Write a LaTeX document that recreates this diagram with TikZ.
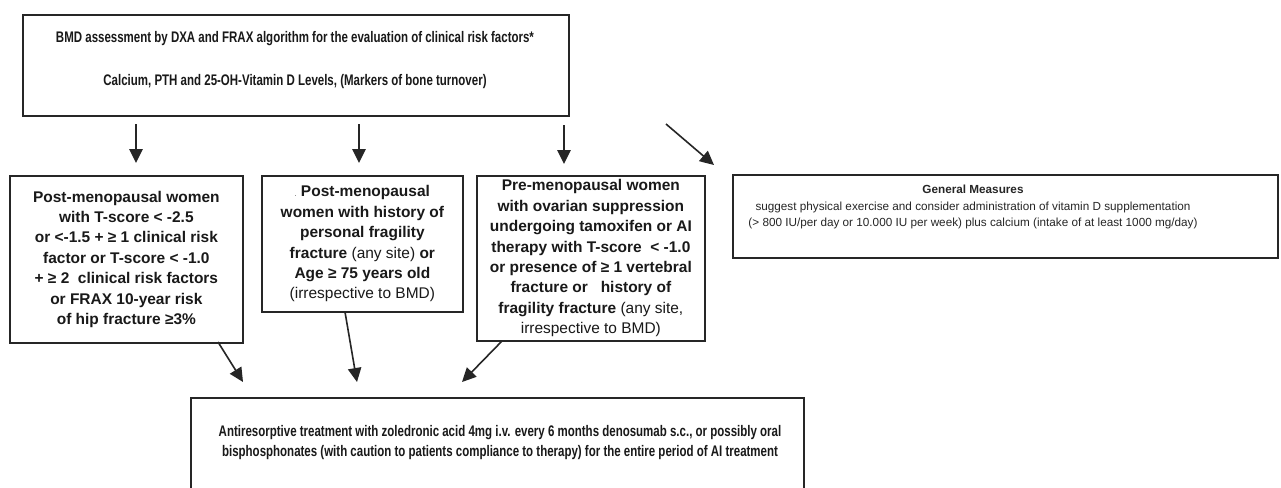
\documentclass[tikz,border=0pt]{standalone}
\usepackage{fontspec}
\setmainfont{Liberation Sans}
\newfontfamily\narrowfont[FakeStretch=0.75]{Liberation Sans}
\usetikzlibrary{arrows.meta}
\begin{document}
\begin{tikzpicture}[x=0.75pt,y=-0.75pt,
  box/.style args={#1/#2}{draw=black!85, line width=1.3pt, minimum width={#1*0.75pt},
    minimum height={#2*0.75pt}, anchor=north west, inner sep=0pt, align=center,
    font=\bfseries\fontsize{11.6}{15.3}\selectfont, text=black!90},
  toptext/.style={anchor=base, inner sep=0pt, font=\narrowfont\bfseries\fontsize{11.5}{15}\selectfont, text=black!90},
  gmtext/.style={inner sep=0pt, align=center, font=\fontsize{8.8}{12.6}\selectfont, text=black!85},
  bottext/.style={inner sep=0pt, align=center, font=\narrowfont\bfseries\fontsize{11.5}{15}\selectfont, text=black!90},
  arr/.style={line width=1.2pt, draw=black!85, -{Triangle[length=10.5pt,width=10pt]}}]
\fill[white] (0,0) rectangle (1281,487);
\clip (0,0) rectangle (1281,487);

% top box
\node[box=546/101] (top) at (22,14) {};
\node[toptext] (t1) at (295,42) {BMD assessment by DXA and FRAX algorithm for the evaluation of clinical risk factors*};
\node[toptext] (t2) at (295,85) {Calcium, PTH and 25-OH-Vitamin D Levels, (Markers of bone turnover)};

% middle boxes
\node[box=233/167] (b1) at (9,175) {Post-menopausal women\\with T-score < -2.5\\or <-1.5 + ≥ 1 clinical risk\\factor or T-score < -1.0\\+ ≥ 2\ \ clinical risk factors\\or FRAX 10-year risk\\of hip fracture ≥3\%};
\node[box=201/136] (b2) at (261,175) {{\mdseries\tiny.}\ Post-menopausal\\women with history of\\personal fragility\\fracture {\mdseries(any site)} or\\Age ≥ 75 years old\\{\mdseries(irrespective to BMD)}};
\node[box=228/165] (b3) at (476,175) {Pre-menopausal women\\with ovarian suppression\\undergoing tamoxifen or AI\\therapy with T-score\ \ < -1.0\\or presence of ≥ 1 vertebral\\fracture or\ \ \ history of\\fragility fracture {\mdseries(any site,}\\{\mdseries irrespective to BMD)}};
\node[box=545/83] (b4) at (732,174) {};
\node[gmtext] (gm) at (973,207) {\textbf{General Measures}\\suggest physical exercise and consider administration of vitamin D supplementation\\(> 800 IU/per day or 10.000 IU per week) plus calcium (intake of at least 1000 mg/day)};

% bottom box
\node[box=613/200] (bot) at (190,397) {};
\node[bottext] (bt) at (500,443) {Antiresorptive treatment with zoledronic acid 4mg i.v. every 6 months denosumab s.c., or possibly oral\\bisphosphonates (with caution to patients compliance to therapy) for the entire period of AI treatment};

% arrow end points
\coordinate (a1s) at (136,124); \coordinate (a1e) at (136,163);
\coordinate (a2s) at (359,124); \coordinate (a2e) at (359,163);
\coordinate (a3s) at (564,125); \coordinate (a3e) at (564,164);
\coordinate (a4s) at (666,124); \coordinate (a4e) at (714,165);
\coordinate (c1s) at (218,342); \coordinate (c1e) at (243,382);
\coordinate (c2s) at (345,312); \coordinate (c2e) at (357,382);
\coordinate (c3s) at (502,341); \coordinate (c3e) at (462,382);

\draw[arr] (a1s) -- (a1e);
\draw[arr] (a2s) -- (a2e);
\draw[arr] (a3s) -- (a3e);
\draw[arr] (a4s) -- (a4e);
\draw[arr] (c1s) -- (c1e);
\draw[arr] (c2s) -- (c2e);
\draw[arr] (c3s) -- (c3e);
\end{tikzpicture}
\end{document}
